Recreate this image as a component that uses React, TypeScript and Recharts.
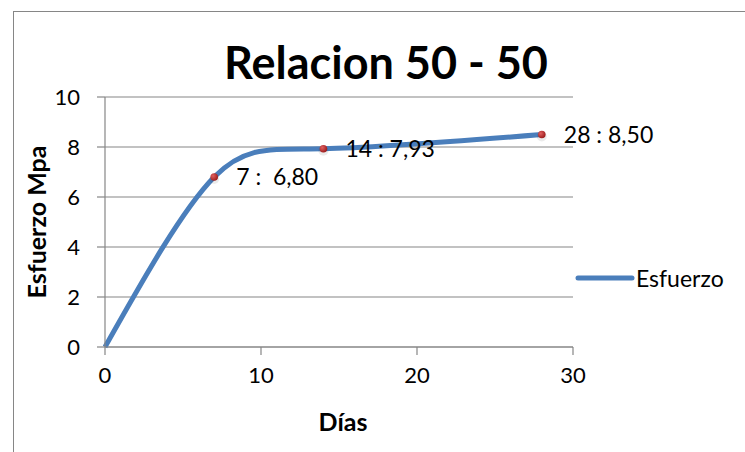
import React from 'react';
import {
  LineChart,
  Line,
  XAxis,
  YAxis,
  CartesianGrid,
  LabelList,
} from 'recharts';

const dias = [0, 7, 14, 28];
const esfuerzo = [0, 6.8, 7.93, 8.5];
const xTicks = [0, 10, 20, 30];
const yTicks = [0, 2, 4, 6, 8, 10];
const serieNombre = 'Esfuerzo';

const data = dias.map((d, i) => ({ dia: d, esfuerzo: esfuerzo[i] }));

const FONT = 'Lato, "Open Sans", sans-serif';
const GRAY = '#868686';
const BLUE = '#4A7EBB';

const fmt = (d: number, v: number) =>
  `${d} :${d < 10 ? '  ' : ' '}${v.toFixed(2).replace('.', ',')}`;

// red marker, skipped at the origin
const Punto = (props: any) => {
  const { cx, cy, payload } = props;
  if (payload.dia === 0) return null;
  return (
    <g>
      <circle cx={cx} cy={cy + 2} r={5} fill="#000" opacity={0.08} />
      <circle cx={cx} cy={cy} r={3.8} fill="url(#bola)" />
    </g>
  );
};

const Etiqueta = (props: any) => {
  const { x, y, index } = props;
  if (dias[index] === 0) return null;
  return (
    <text
      x={x + 22}
      y={y + 8}
      fontSize={23}
      fontFamily={FONT}
      fill="#000"
      style={{ whiteSpace: 'pre' }}
    >
      {fmt(dias[index], esfuerzo[index])}
    </text>
  );
};

export default function App() {
  return (
    <div
      style={{
        position: 'fixed',
        left: 0,
        top: 0,
        width: 745,
        height: 452,
        background: '#fff',
        overflow: 'hidden',
      }}
    >
      <div
        style={{
          position: 'absolute',
          left: 13,
          top: 11,
          width: 800,
          height: 500,
          border: `1px solid ${GRAY}`,
        }}
      />
      <div
        style={{
          position: 'absolute',
          left: 0,
          top: 34,
          width: 772,
          textAlign: 'center',
          fontFamily: FONT,
          fontWeight: 700,
          fontSize: 45,
          lineHeight: '56px',
        }}
      >
        Relacion 50 - 50
      </div>
      <div
        style={{
          position: 'absolute',
          left: 36,
          top: 222,
          transform: 'translate(-50%, -50%) rotate(-90deg)',
          fontFamily: FONT,
          fontWeight: 700,
          fontSize: 25,
          whiteSpace: 'nowrap',
        }}
      >
        Esfuerzo Mpa
      </div>
      <div
        style={{
          position: 'absolute',
          left: 343,
          top: 421,
          transform: 'translate(-50%, -50%)',
          fontFamily: FONT,
          fontWeight: 700,
          fontSize: 25,
        }}
      >
        Días
      </div>
      <div
        style={{
          position: 'absolute',
          left: 575,
          top: 264,
          display: 'flex',
          alignItems: 'center',
          fontFamily: FONT,
          fontSize: 23,
        }}
      >
        <svg width={60} height={10}>
          <line x1={3} y1={5} x2={57} y2={5} stroke={BLUE} strokeWidth={5} strokeLinecap="round" />
        </svg>
        <span style={{ marginLeft: 1 }}>{serieNombre}</span>
      </div>
      <div style={{ position: 'absolute', left: 0, top: 0 }}>
        <LineChart
          width={745}
          height={452}
          data={data}
          margin={{ top: 97, right: 172, bottom: 65, left: 0 }}
        >
          <defs>
            <radialGradient id="bola" cx="35%" cy="35%" r="70%">
              <stop offset="0%" stopColor="#e06060" />
              <stop offset="100%" stopColor="#9a1a1a" />
            </radialGradient>
          </defs>
          <CartesianGrid horizontal vertical={false} stroke={GRAY} strokeWidth={1.2} />
          <XAxis
            type="number"
            dataKey="dia"
            domain={[0, 30]}
            ticks={xTicks}
            interval={0}
            stroke={GRAY}
            strokeWidth={1.2}
            tickSize={8}
            tickMargin={12}
            height={40}
            tick={{ fill: '#000', fontSize: 22, fontFamily: FONT }}
          />
          <YAxis
            type="number"
            domain={[0, 10]}
            ticks={yTicks}
            interval={0}
            stroke={GRAY}
            strokeWidth={1.2}
            tickSize={8}
            tickMargin={17}
            width={105}
            tick={{ fill: '#000', fontSize: 22, fontFamily: FONT }}
          />
          <Line
            type="natural"
            dataKey="esfuerzo"
            name={serieNombre}
            stroke={BLUE}
            strokeWidth={5}
            dot={<Punto />}
            activeDot={false}
            isAnimationActive={false}
          >
            <LabelList dataKey="esfuerzo" content={<Etiqueta />} />
          </Line>
        </LineChart>
      </div>
    </div>
  );
}
